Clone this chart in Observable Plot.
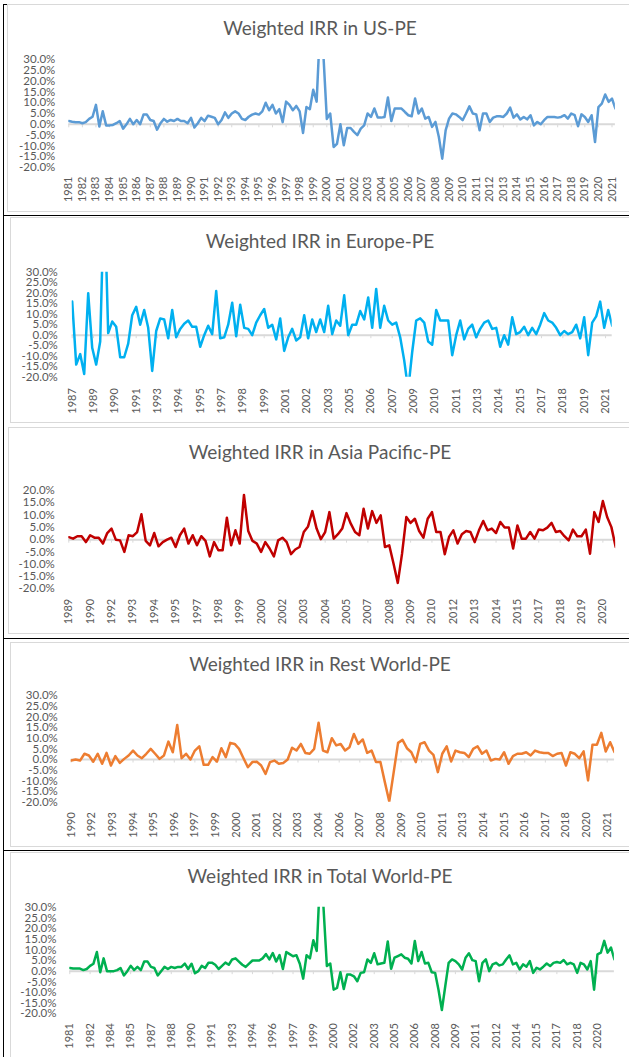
<!DOCTYPE html>
<html>
<head>
<meta charset="utf-8">
<script src="https://cdn.jsdelivr.net/npm/d3@7"></script>
<script src="https://cdn.jsdelivr.net/npm/@observablehq/plot@0.6"></script>
<style>
  html, body { margin: 0; padding: 0; background: #fff; }
  #page { position: relative; width: 629px; height: 1057px; overflow: hidden; background: #fff; font-family: Lato, "Open Sans", sans-serif; }
  .title { position: absolute; left: 0; width: 640px; text-align: center; font-size: 19px; line-height: 24px; color: #595959; white-space: nowrap; }
  .box { position: absolute; border: 1px solid #d9d9d9; box-sizing: border-box; }
  .blk { position: absolute; background: #000; }
  .panel { position: absolute; left: 0; }
</style>
</head>
<body>
<div id="page"></div>
<script>
// ---------------- data (values in %) ----------------
const usTitle = "Weighted IRR in US-PE";
const usStart = 1981.0;
const usValues = [
  1.5,1.2,1.0,1.0,0.5,1.0,2.5,3.5,9.0,-1.0,
  6.0,-0.5,-0.5,-0.3,0.5,1.5,-2.0,0.0,2.5,0.0,
  2.0,0.0,4.5,4.5,2.0,1.5,-2.5,0.5,2.5,1.2,
  2.0,1.5,2.5,1.5,1.5,0.5,3.0,-1.5,0.5,3.0,
  1.5,4.0,3.5,3.0,0.0,2.0,5.5,3.0,5.0,6.0,
  5.0,2.5,2.0,3.5,4.5,5.0,4.5,6.0,10.0,6.5,
  9.0,5.0,7.0,1.0,10.5,9.0,6.5,8.5,6.0,-4.0,
  8.0,7.0,16.0,10.5,45.0,32.0,2.5,5.0,-10.5,-9.0,
  0.0,-9.7,-1.7,-1.7,-3.5,-5.0,-2.0,-0.5,5.0,3.4,
  7.3,3.1,3.1,3.4,12.4,1.5,7.3,7.3,7.3,5.7,
  4.2,3.7,11.9,5.0,7.3,2.6,3.4,-1.2,1.1,-5.9,
  -15.9,-2.8,2.6,5.0,4.6,3.4,1.9,5.0,8.3,5.0,
  4.6,-2.8,5.0,5.0,1.1,3.1,3.7,3.7,3.4,5.0,
  7.7,3.1,4.6,2.2,3.4,2.3,4.2,-0.5,1.1,0.0,
  1.9,3.4,3.4,3.4,3.1,3.4,4.2,2.6,5.0,4.2,
  -0.9,4.6,3.4,1.1,4.2,-8.2,8.0,9.6,13.8,10.4,
  11.9,7.3
];
const usLabels = ["1981","1982","1983","1984","1985","1986","1987","1988","1989","1990","1991","1992","1993","1994","1995","1996","1997","1998","1999","2000","2001","2002","2003","2004","2005","2006","2007","2008","2009","2010","2011","2012","2013","2014","2015","2016","2017","2018","2019","2020","2021"];

const euTitle = "Weighted IRR in Europe-PE";
const euStart = 1987.75;
const euValues = [
  16,-14,-9,-18.5,20,-6,-14,-3,70,1,
  6.5,4,-10.5,-10.5,-4,9.5,13.5,5,12,3.5,
  -17,2,8,7.5,-1.5,12,-1,3,5.5,7,
  4,4,-5.5,0,4.5,0.5,21,-1.5,-1,5,
  15.5,-0.5,14.5,3.5,3,0,6,9.5,12.5,3.5,
  5,-2,8,-7.5,-1,3,-2.5,-1,9.5,-1.5,
  7.5,1.5,7.5,1.5,14,0.5,7,4.5,19,0,
  5,5,11.5,7.5,18,3.5,22,3.5,14,7,
  5,6,-1,-12,-26,-8,7,8,6,-3,
  -4.5,12,7,7,7,-9.5,0,7,-2,3,
  5,-1,3,6,7,3,3.5,-5.5,0,-4.5,
  8.5,0.5,1.5,4,0,3.5,0.5,5,10.5,7,
  6,3.5,0,2,0.5,1.5,5,-1.5,8.5,-9.5,
  6,9,16,3.5,12,4.5
];
const euLabels = ["1987","1989","1990","1991","1993","1994","1995","1997","1998","1999","2001","2002","2003","2005","2006","2007","2009","2010","2011","2013","2014","2015","2017","2018","2019","2021"];

const apTitle = "Weighted IRR in Asia Pacific-PE";
const apStart = 1989.5;
const apValues = [
  1,0.4,1.4,1.4,-1,1.8,0.8,0.8,-1.6,2.7,
  4.5,0,-0.3,-5,1.8,1.4,3.1,10.3,-0.5,-2.3,
  2.7,-2.7,-1,0,0.8,-3,1.8,4.5,-1.6,1.8,
  -2.3,1.4,-0.5,-6.8,-1,-4.3,-4.3,8.9,-2.3,3.8,
  -1.6,18.2,3.5,-0.5,-1.6,-5,-1,-3.6,-6.8,-0.3,
  0.8,-1,-5.9,-4,-3,3.1,5.4,11.6,4.5,0.2,
  3.1,11.2,0.4,2.2,4.5,10.8,6.5,3.1,1.8,12.6,
  4.5,11.6,6.8,9.9,-3,-2.3,-9.7,-17.6,-5.7,9.2,
  6.8,8.5,3.5,0.8,8.5,11.2,3.1,3.1,-5.9,1.1,
  3.8,-1.6,2.2,3.5,3.1,-1,3.8,7.6,3.8,4.5,
  2.7,7.2,4.9,4.9,-3.6,5.8,0.4,0.4,3.1,0.4,
  4.1,3.8,4.9,6.8,3.1,3.5,1.4,-0.3,4.1,1.4,
  1.4,4.1,-5.7,11.2,7.2,15.7,9.2,5.1,-3
];
const apLabels = ["1989","1990","1992","1993","1994","1995","1997","1998","1999","2000","2002","2003","2004","2005","2007","2008","2009","2010","2012","2013","2014","2015","2017","2018","2019","2020"];

const rwTitle = "Weighted IRR in Rest World-PE";
const rwStart = 1990.917;
const rwValues = [
  -0.5,0,-0.5,2.7,1.9,-1,2.7,-2,3.1,-2.8,
  1.6,-1.6,0.3,1.9,4.2,1.9,0.6,2.7,5,2.7,
  0.3,1.9,8.4,3.4,16.2,0.6,2.7,0,4.2,6.2,
  -2.5,-2.5,1.1,-1,5.3,1.1,7.8,7.3,5,0.6,
  -3.6,-1.2,-1,-2.8,-6.7,-1.2,-0.5,-2,-1.6,0,
  5.5,4.2,7.3,3.1,2.7,5,17.2,4.2,3.4,10,
  6.6,7.3,4.2,5.8,12,7.3,9.4,3.1,4.2,-1.2,
  -1.2,-10.6,-19.7,-6,7.8,9.2,5.3,3.4,-1.2,7.3,
  8.1,4.2,2.2,-5.9,2.7,6.2,-0.9,4.2,3.4,3.1,
  1.1,5,6.2,2.7,4.2,-0.5,0.3,0,3.4,-2,
  1.6,2.7,2.7,3.4,1.9,4.2,3.4,3.1,3.1,1.6,
  2.7,3.1,-2.8,3.4,2.7,0.6,3.8,-9.8,6.9,6.9,
  12.5,3.8,8.1,3.4
];
const rwLabels = ["1990","1992","1993","1994","1995","1996","1997","1999","2000","2001","2002","2003","2004","2006","2007","2008","2009","2010","2011","2013","2014","2015","2016","2017","2018","2020","2021"];

const twTitle = "Weighted IRR in Total World-PE";
const twStart = 1981.0;
const twValues = [
  1.5,1.2,1.2,1.2,0.5,1.0,2.5,3.5,9.0,-0.5,
  6.0,0.0,0.0,0.0,0.5,1.5,-2.0,0.0,2.5,0.5,
  2.0,0.5,4.5,4.5,2.0,1.5,-2.0,0.0,2.0,1.0,
  2.0,1.5,2.0,2.0,3.5,1.0,3.5,-1.0,0.0,2.5,
  1.5,4.0,4.0,3.0,1.0,2.5,4.0,3.0,5.5,6.0,
  4.5,3.0,2.0,3.5,5.0,5.0,5.0,6.0,8.0,5.5,
  8.5,4.5,7.5,1.0,9.0,8.0,7.0,7.5,3.5,-3.5,
  7.5,6.0,14.5,9.5,45.0,30.0,2.4,3.6,-8.7,-7.9,
  -0.5,-8.4,-1.6,-1.6,-2.4,-4.7,-0.8,-0.5,5.5,3.9,
  8.4,3.2,3.6,3.9,13.9,1.1,6.3,7.1,7.9,6.3,
  5.8,3.6,14.2,4.7,9.0,3.6,3.9,-0.5,-0.8,-8.7,
  -18.2,-7.1,3.9,5.5,4.7,3.2,0.8,6.3,8.4,5.2,
  4.7,-4.7,3.9,5.5,0.0,3.2,3.9,2.7,3.2,5.5,
  7.4,3.2,3.9,0.8,3.2,2.1,4.7,-0.8,1.6,0.8,
  2.1,3.6,2.4,3.9,4.3,3.9,5.2,3.2,3.9,3.2,
  -0.8,3.9,3.2,0.8,4.7,-8.7,7.9,8.7,14.2,8.7,
  11.1,5.5
];
const twLabels = ["1981","1982","1984","1985","1987","1988","1990","1991","1993","1994","1996","1997","1999","2000","2002","2003","2005","2006","2008","2009","2011","2012","2014","2015","2017","2018","2020"];

const yTicksWide = [-20,-15,-10,-5,0,5,10,15,20,25,30];
const yTicksAsia = [-20,-15,-10,-5,0,5,10,15,20];

// ---------------- layout ----------------
const page = document.getElementById("page");
const W = 629;

function el(cls, css, text) {
  const d = document.createElement("div");
  d.className = cls;
  Object.assign(d.style, css);
  if (text) d.textContent = text;
  page.appendChild(d);
  return d;
}

// frame lines (document borders)
el("blk", {left: "3px", top: "4px", width: "1px", height: "1053px"});
el("blk", {left: "3px", top: "4px", width: "5px", height: "1px"});
el("blk", {left: "3px", top: "215px", width: "626px", height: "1px"});
el("blk", {left: "3px", top: "638px", width: "626px", height: "1px"});
el("blk", {left: "3px", top: "850px", width: "626px", height: "1px"});

// chart-area boxes
el("box", {left: "7px", top: "4px", width: "630px", height: "208px"});
el("box", {left: "10px", top: "217px", width: "630px", height: "206px"});
el("box", {left: "8px", top: "427px", width: "630px", height: "207px"});
el("box", {left: "10px", top: "642px", width: "630px", height: "205px"});
el("box", {left: "10px", top: "852px", width: "630px", height: "220px"});

function drawPanel(o) {
  el("title", {top: (o.titleY - 12) + "px"}, o.title);
  const H = o.regionBottom - o.regionTop;
  const plotTop = o.yTopPx - o.regionTop;
  const plotBottom = o.yBottomPx - o.regionTop;
  const data = o.values.map((v, i) => ({t: o.start + i * 0.25, v}));
  const t1 = o.start + (o.values.length - 1) * 0.25;
  const px1 = o.px0 + (t1 - o.start) * o.pxPerYear;
  const tickPos = o.labels.map((_, k) => o.start + k * o.tickStep);
  const labelOf = new Map(tickPos.map((p, k) => [p, o.labels[k]]));
  const yMin = o.yTicks[0], yMax = o.yTicks[o.yTicks.length - 1];
  const pxPerPct = (plotBottom - plotTop) / (yMax - yMin);
  const svg = Plot.plot({
    width: W,
    height: H,
    marginLeft: o.px0,
    marginRight: W - px1,
    marginTop: plotTop,
    marginBottom: H - plotBottom,
    x: {domain: [o.start, t1]},
    y: {domain: [yMin, yMax]},
    style: {fontFamily: "Lato, 'Open Sans', sans-serif", fontSize: "11.5px", color: "#595959", background: "transparent", overflow: "visible"},
    marks: [
      Plot.ruleY([0], {stroke: "#d9d9d9", strokeWidth: 2}),
      Plot.ruleX(tickPos, {x: d => d, y1: 0, y2: -3.5 / pxPerPct, stroke: "#d9d9d9", strokeWidth: 1}),
      Plot.line(data, {x: "t", y: "v", stroke: o.color, strokeWidth: 2.5, strokeLinejoin: "round", strokeLinecap: "round", clip: true}),
      Plot.axisY({ticks: o.yTicks, tickSize: 0, tickPadding: o.yPad, label: null, fontSize: 11.5, tickFormat: d => d.toFixed(1) + "%"}),
      Plot.axisX({ticks: tickPos, tickSize: 0, tickPadding: o.xPad, tickRotate: -90, label: null, fontSize: 11, tickFormat: d => labelOf.get(d)})
    ]
  });
  const wrap = el("panel", {top: o.regionTop + "px", width: W + "px", height: H + "px"});
  wrap.appendChild(svg);
}

drawPanel({title: usTitle, titleY: 28, values: usValues, start: usStart, labels: usLabels, tickStep: 1,
  px0: 68.3, pxPerYear: 13.58, regionTop: 0, regionBottom: 212, yTopPx: 59, yBottomPx: 167,
  yTicks: yTicksWide, yPad: 13.5, xPad: 9, color: "#5b9bd5"});
drawPanel({title: euTitle, titleY: 241, values: euValues, start: euStart, labels: euLabels, tickStep: 4 / 3,
  px0: 71.7, pxPerYear: 16.0, regionTop: 216, regionBottom: 424, yTopPx: 271.7, yBottomPx: 376.7,
  yTicks: yTicksWide, yPad: 14.4, xPad: 11, color: "#00b0f0"});
drawPanel({title: apTitle, titleY: 452, values: apValues, start: apStart, labels: apLabels, tickStep: 1.25,
  px0: 68.3, pxPerYear: 17.09, regionTop: 428, regionBottom: 636, yTopPx: 490, yBottomPx: 588.3,
  yTicks: yTicksAsia, yPad: 14, xPad: 10, color: "#c00000"});
drawPanel({title: rwTitle, titleY: 663.5, values: rwValues, start: rwStart, labels: rwLabels, tickStep: 7 / 6,
  px0: 70.7, pxPerYear: 17.67, regionTop: 640, regionBottom: 848, yTopPx: 695, yBottomPx: 801.7,
  yTicks: yTicksWide, yPad: 13.4, xPad: 10, color: "#ed7d31"});
drawPanel({title: twTitle, titleY: 876, values: twValues, start: twStart, labels: twLabels, tickStep: 1.5,
  px0: 69.3, pxPerYear: 13.53, regionTop: 852, regionBottom: 1057, yTopPx: 906.7, yBottomPx: 1013.3,
  yTicks: yTicksWide, yPad: 13.3, xPad: 9.4, color: "#00b050"});
</script>
</body>
</html>
